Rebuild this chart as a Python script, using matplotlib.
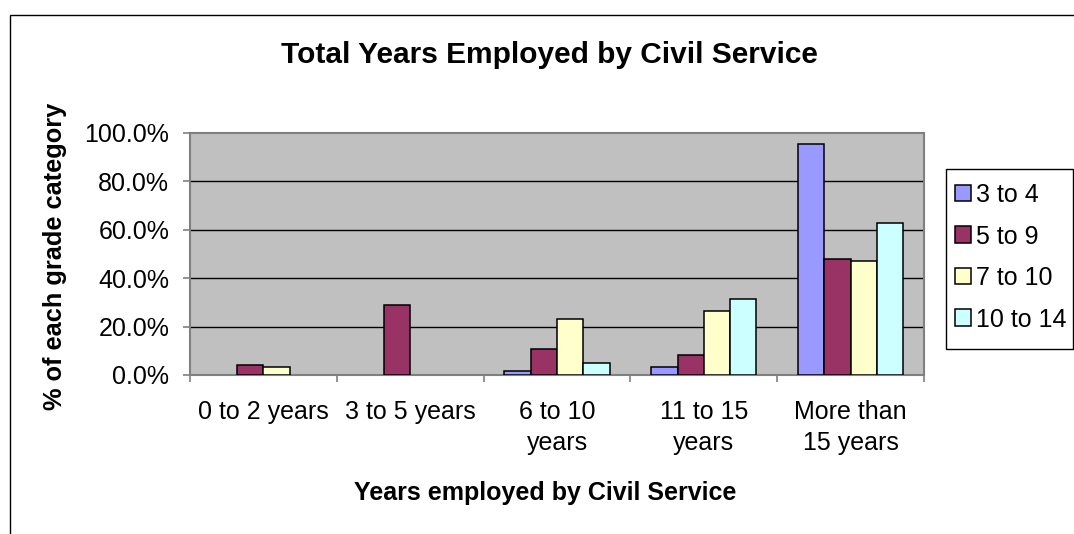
import numpy as np
import matplotlib
matplotlib.use('Agg')
from matplotlib import pyplot as plt
from matplotlib.patches import Rectangle
from matplotlib.ticker import FixedLocator, PercentFormatter

plt.rcParams['font.family'] = ['Liberation Sans', 'DejaVu Sans']

# data
categories = ['0 to 2 years', '3 to 5 years', '6 to 10\nyears', '11 to 15\nyears', 'More than\n15 years']
series = ['3 to 4', '5 to 9', '7 to 10', '10 to 14']
grade_3_4 = [0.0, 0.0, 1.6, 3.3, 95.3]
grade_5_9 = [4.1, 29.0, 10.8, 8.3, 48.0]
grade_7_10 = [3.3, 0.0, 23.2, 26.5, 47.2]
grade_10_14 = [0.0, 0.0, 4.8, 31.4, 62.8]
colors = ['#9999FF', '#993366', '#FFFFCC', '#CCFFFF']

W, H = 1074, 534
fig = plt.figure(figsize=(W / 100, H / 100), dpi=100)
fig.patch.set_facecolor('white')

# outer chart border (runs off the right and bottom edges)
fig.patches.append(Rectangle((10 / W, -0.1), 1.2, 1.1 - 15 / H, transform=fig.transFigure,
                             fill=False, edgecolor='black', linewidth=1.0))
# legend box, drawn by hand so it sits where excel put it
fig.patches.append(Rectangle((946 / W, 1 - 349 / H), 127 / W, 180 / H, transform=fig.transFigure,
                             fill=False, edgecolor='black', linewidth=1.0))

ax = fig.add_axes([190 / W, (H - 375) / H, 734 / W, 242 / H])
ax.set_facecolor('#C0C0C0')

x = np.arange(len(categories))
width = 0.179
all_values = [grade_3_4, grade_5_9, grade_7_10, grade_10_14]
for i, (name, vals) in enumerate(zip(series, all_values)):
    vals = np.array(vals)
    keep = vals > 0  # excel draws nothing for empty cells
    ax.bar(x[keep] + (i - 1.5) * width, vals[keep], width, color=colors[i], edgecolor='black',
           linewidth=1.1, label=name, zorder=3)

ax.set_xlim(-0.5, len(categories) - 0.5)
ax.set_ylim(0, 100)
ax.set_yticks(np.arange(0, 101, 20))
ax.yaxis.set_major_formatter(PercentFormatter(decimals=1))
for yv in [20, 40, 60, 80]:
    ax.axhline(yv, color='black', linewidth=1.0, zorder=1)

ax.set_xticks(x)
ax.set_xticklabels(categories, linespacing=1.35)
ax.xaxis.set_minor_locator(FixedLocator(np.arange(-0.5, len(categories), 1.0)))
ax.tick_params(axis='x', which='major', length=0, pad=18, labelsize=18)
ax.tick_params(axis='x', which='minor', length=5, width=1.2, color='#808080')
ax.tick_params(axis='y', length=5, width=1.2, color='#808080', pad=10, labelsize=18)

for s in ax.spines.values():
    s.set_color('#808080')
    s.set_linewidth(1.5)

fig.text(549 / W, 1 - 55 / H, 'Total Years Employed by Civil Service', ha='center', va='center',
         fontsize=21.5, fontweight='bold')
fig.text(545 / W, 1 - 493 / H, 'Years employed by Civil Service', ha='center', va='center',
         fontsize=18, fontweight='bold')
fig.text(55 / W, 1 - 256 / H, '% of each grade category', ha='center', va='center',
         rotation=90, fontsize=18.3, fontweight='bold')

leg = ax.legend(loc='upper left', bbox_to_anchor=(955 / W, 1 - 183 / H), bbox_transform=fig.transFigure,
                fontsize=18, frameon=False, borderaxespad=0, borderpad=0,
                handlelength=0.64, handleheight=0.64, handletextpad=0.22,
                labelspacing=0.7)
for p in leg.get_patches():
    p.set_linewidth(1.1)

fig.savefig('out.png', dpi=100)
